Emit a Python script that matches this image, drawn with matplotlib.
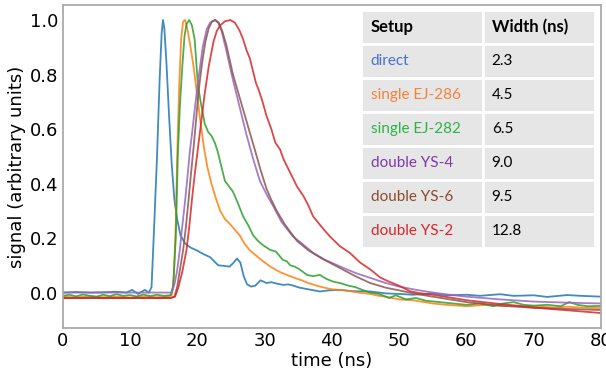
import matplotlib
matplotlib.use("Agg")
import matplotlib.pyplot as plt

# (time in ns, normalised signal)
t_direct = [0, 2, 4, 6, 8, 9.5, 10.3, 11.2, 12.2, 12.8, 13.2, 13.6, 14.0, 14.4, 14.7, 14.9, 15.1,
            15.4, 15.8, 16.2, 16.6, 17.0, 17.5, 18.2, 19.0, 19.9, 21.0, 21.9, 23.1, 24.0, 24.8, 25.4,
            25.9, 26.4, 26.9, 27.4, 28.0, 28.6, 29.4, 30.3, 31.0, 31.8, 32.8, 33.5, 34.2, 35.2, 36.5,
            38.2, 39.5, 41.2, 43, 45.7, 48, 50, 52, 55, 57, 60, 62, 65, 67, 70, 72, 75, 77, 80]
y_direct = [0.0, 0.002, 0.0, 0.001, 0.003, 0.0, 0.01, -0.005, 0.01, 0.0, 0.02, 0.25, 0.49, 0.78,
            0.95, 1.0, 0.97, 0.85, 0.65, 0.47, 0.34, 0.27, 0.21, 0.18, 0.165, 0.155, 0.14, 0.13, 0.10,
            0.098, 0.095, 0.11, 0.125, 0.11, 0.06, 0.03, 0.022, 0.025, 0.045, 0.035, 0.038, 0.033,
            0.028, 0.03, 0.026, 0.018, 0.012, 0.004, 0.008, 0.01, 0.005, 0.004, -0.003, -0.005,
            -0.008, -0.003, -0.01, -0.008, -0.012, -0.006, -0.012, -0.01, -0.016, -0.009, -0.012, -0.015]

t_ej286 = [0, 2, 4, 6, 8, 10, 12, 14, 15.5, 16.2, 16.5, 16.8, 17.0, 17.3, 17.6, 17.9, 18.2, 18.5,
           19.0, 19.5, 20.0, 20.5, 21.0, 21.5, 22.1, 22.7, 23.4, 24.1, 24.9, 25.6, 26.3, 27.0, 27.8,
           28.3, 29.5, 30.8, 32.3, 33.8, 35.5, 36.5, 38.2, 40, 42, 44, 45.7, 47, 48, 50, 52, 55, 57,
           60, 63, 65, 68, 70, 73, 75, 78, 80]
y_ej286 = [-0.015, -0.018, -0.014, -0.017, -0.015, -0.018, -0.014, -0.017, -0.015, -0.01, 0.05,
           0.25, 0.49, 0.75, 0.93, 0.995, 1.0, 0.97, 0.9, 0.82, 0.72, 0.62, 0.53, 0.46, 0.40, 0.35,
           0.30, 0.27, 0.25, 0.23, 0.21, 0.18, 0.155, 0.145, 0.12, 0.096, 0.075, 0.06, 0.045, 0.035,
           0.022, 0.012, 0.008, 0.0, -0.005, -0.012, -0.015, -0.025, -0.028, -0.04, -0.045, -0.05,
           -0.045, -0.048, -0.05, -0.05, -0.055, -0.052, -0.056, -0.057]

t_ej282 = [0, 1, 2, 3, 4, 5, 6, 7, 8, 9, 10, 11, 12, 13, 14, 15, 16, 16.4, 16.8, 17.1, 17.4, 17.8,
           18.1, 18.4, 18.8, 19.2, 19.6, 20.1, 20.5, 20.8, 21.1, 21.6, 22.1, 22.6, 23.0, 23.6, 24.1,
           24.7, 25.3, 26.0, 26.8, 27.5, 28.3, 29.0, 29.7, 30.8, 31.7, 32.7, 33.3, 33.8, 34.5, 35.2,
           36.3, 37.2, 38.2, 39.2, 40.2, 41.2, 42.5, 43.5, 44.5, 45.7, 47, 48.5, 49.5, 51, 52.5, 54,
           56, 58, 60, 62, 64, 65.5, 67, 68.5, 70, 72, 74, 75.3, 76.5, 78, 80]
y_ej282 = [-0.012, -0.008, -0.014, -0.007, -0.012, -0.015, -0.008, -0.013, -0.006, -0.012, -0.009,
           -0.014, -0.007, -0.013, -0.008, -0.012, -0.01, 0.02, 0.2, 0.5, 0.68, 0.84, 0.94, 0.985,
           1.0, 0.98, 0.93, 0.76, 0.7, 0.66, 0.62, 0.59, 0.575, 0.55, 0.52, 0.46, 0.41, 0.39, 0.37,
           0.33, 0.28, 0.25, 0.21, 0.19, 0.175, 0.157, 0.15, 0.12, 0.115, 0.10, 0.095, 0.085, 0.065,
           0.06, 0.065, 0.05, 0.04, 0.035, 0.025, 0.02, 0.01, 0.0, -0.005, -0.02, -0.01, -0.025,
           -0.02, -0.03, -0.035, -0.04, -0.045, -0.04, -0.05, -0.04, -0.035, -0.045, -0.048, -0.045,
           -0.05, -0.035, -0.045, -0.05, -0.049]

t_ys4 = [0, 4, 8, 12, 15, 16.2, 16.6, 17.0, 17.4, 17.8, 18.2, 18.6, 18.9, 19.2, 19.7, 20.2, 20.8,
         21.4, 21.9, 22.6, 23.1, 23.6, 24.2, 25.3, 26.3, 27.3, 28.3, 29.3, 30.3, 31.3, 32.5, 34.2,
         35.3, 37.2, 39, 41.2, 43.5, 45.7, 48, 50, 52.5, 55, 57.5, 60, 65, 70, 75, 80]
y_ys4 = [0.0, 0.0, 0.0, 0.0, 0.0, 0.0, 0.03, 0.08, 0.157, 0.25, 0.34, 0.44, 0.52, 0.58, 0.69, 0.79,
         0.9, 0.966, 0.99, 1.0, 0.99, 0.96, 0.9, 0.78, 0.68, 0.58, 0.49, 0.41, 0.36, 0.316, 0.26,
         0.206, 0.185, 0.146, 0.12, 0.096, 0.072, 0.054, 0.035, 0.022, 0.01, 0.0, -0.008, -0.015,
         -0.025, -0.033, -0.037, -0.04]

t_ys6 = [0, 4, 8, 12, 15, 16.0, 16.6, 17.0, 17.4, 17.9, 18.3, 18.7, 19.0, 19.4, 19.7, 20.2, 20.7,
         21.2, 21.7, 22.2, 22.7, 23.2, 23.7, 24.3, 25.3, 26.3, 27.3, 28.0, 28.6, 29.4, 30.3, 31.0,
         31.8, 33.0, 34.8, 36.5, 38.5, 41.2, 43.5, 45.7, 48, 50, 52.5, 55, 57.5, 60, 65, 70, 75, 80]
y_ys6 = [-0.02, -0.02, -0.02, -0.02, -0.02, -0.02, -0.015, 0.02, 0.08, 0.157, 0.24, 0.34, 0.42,
         0.52, 0.6, 0.74, 0.84, 0.92, 0.97, 0.995, 1.0, 0.99, 0.96, 0.91, 0.8, 0.715, 0.63, 0.57,
         0.52, 0.45, 0.38, 0.34, 0.30, 0.25, 0.19, 0.155, 0.125, 0.09, 0.06, 0.035, 0.018, 0.008,
         -0.005, -0.015, -0.025, -0.035, -0.048, -0.056, -0.06, -0.064]

t_ys2 = [0, 4, 8, 12, 15, 16.0, 16.7, 17.2, 17.8, 18.4, 18.8, 19.2, 19.6, 20.0, 20.5, 21.1, 21.7,
         22.4, 22.9, 23.4, 24.1, 24.9, 25.6, 26.3, 26.8, 27.3, 27.8, 28.3, 28.7, 29.1, 29.7, 30.3,
         31.0, 31.6, 32.3, 32.8, 33.8, 34.8, 35.8, 36.5, 37.2, 38.5, 39.7, 41.2, 42.7, 44.2, 45.7,
         47.2, 48.5, 50, 51.6, 53, 55, 57.5, 60, 62.5, 65, 67.5, 70, 72.5, 75, 77.5, 80]
y_ys2 = [-0.02, -0.02, -0.02, -0.02, -0.02, -0.02, -0.015, 0.02, 0.08, 0.157, 0.24, 0.34, 0.43,
         0.51, 0.61, 0.73, 0.83, 0.92, 0.96, 0.98, 0.995, 1.0, 0.99, 0.96, 0.93, 0.89, 0.86, 0.81,
         0.77, 0.745, 0.70, 0.647, 0.6, 0.55, 0.525, 0.49, 0.44, 0.39, 0.353, 0.32, 0.28, 0.24,
         0.206, 0.17, 0.145, 0.11, 0.085, 0.055, 0.04, 0.025, 0.005, -0.002, -0.008, -0.018,
         -0.028, -0.035, -0.042, -0.048, -0.055, -0.06, -0.065, -0.07, -0.075]

setups = ['direct', 'single EJ-286', 'single EJ-282', 'double YS-4', 'double YS-6', 'double YS-2']
widths = ['2.3', '4.5', '6.5', '9.0', '9.5', '12.8']
colors = ['#1f77b4', '#ff7f0e', '#2ca02c', '#9467bd', '#8c564b', '#d62728']
text_colors = ['#4472c4', '#f4823a', '#2db34a', '#7b3aa8', '#8a4a2c', '#d8262b']

curves = [(t_direct, y_direct), (t_ej286, y_ej286), (t_ej282, y_ej282),
          (t_ys4, y_ys4), (t_ys6, y_ys6), (t_ys2, y_ys2)]

fig = plt.figure(figsize=(6.06, 3.70), dpi=100)
ax = fig.add_axes([0.1035, 0.1135, 0.8883, 0.873])

for (t, y), c in zip(curves, colors):
    ax.plot(t, y, color=c, lw=1.3, alpha=0.85)

ax.set_xlim(0, 80)
ax.set_ylim(-0.13, 1.055)
ax.set_xticks(range(0, 81, 10))
ax.set_yticks([0.0, 0.2, 0.4, 0.6, 0.8, 1.0])
ax.tick_params(labelsize=13, length=0, pad=3)
ax.set_xlabel('time (ns)', fontsize=13, labelpad=1)
ax.set_ylabel('signal (arbitrary units)', fontsize=13, labelpad=3)
for sp in ax.spines.values():
    sp.set_color('#aaaaaa')
    sp.set_linewidth(1.3)

# table in the top right corner
cell_text = [['Setup', 'Width (ns)']] + [[s, w] for s, w in zip(setups, widths)]
tab = ax.table(cellText=cell_text, cellLoc='left', colWidths=[0.52, 0.48],
               bbox=[0.554, 0.248, 0.435, 0.737])
tab.auto_set_font_size(False)
for (r, c), cell in tab.get_celld().items():
    cell.set_facecolor('#e6e6e6')
    cell.set_edgecolor('white')
    cell.set_linewidth(2)
    cell.PAD = 0.08
    txt = cell.get_text()
    txt.set_fontfamily('Lato')
    if r == 0:
        txt.set_fontweight('bold')
        txt.set_fontsize(12)
        txt.set_color('black')
    elif c == 0:
        txt.set_fontsize(11)
        txt.set_color(text_colors[r - 1])
    else:
        txt.set_fontsize(11)
        txt.set_color('black')

fig.savefig('out.png', dpi=100)
